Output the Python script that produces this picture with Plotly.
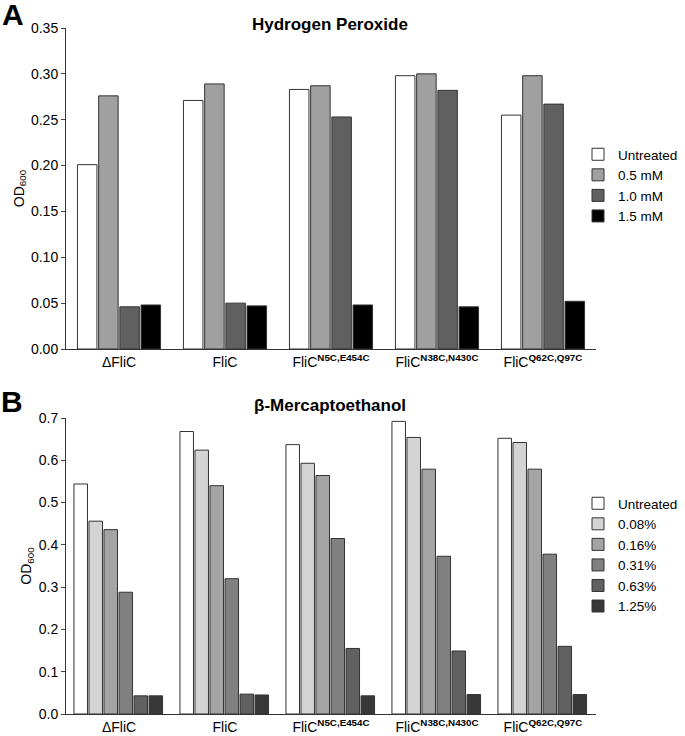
import plotly.graph_objects as go

strains = ["ΔFliC", "FliC", "FliC<sup><b>N5C,E454C</b></sup>",
           "FliC<sup><b>N38C,N430C</b></sup>", "FliC<sup><b>Q62C,Q97C</b></sup>"]

# panel A - hydrogen peroxide
h2o2_doses = ["Untreated", "0.5 mM", "1.0 mM", "1.5 mM"]
h2o2_untreated = [0.201, 0.271, 0.283, 0.298, 0.255]
h2o2_05 = [0.276, 0.289, 0.287, 0.300, 0.298]
h2o2_10 = [0.046, 0.050, 0.253, 0.282, 0.267]
h2o2_15 = [0.048, 0.047, 0.048, 0.046, 0.052]
h2o2_colors = ["#ffffff", "#a0a0a0", "#606060", "#000000"]

# panel B - beta-mercaptoethanol
bme_doses = ["Untreated", "0.08%", "0.16%", "0.31%", "0.63%", "1.25%"]
bme_untreated = [0.544, 0.668, 0.637, 0.692, 0.652]
bme_008 = [0.456, 0.624, 0.593, 0.654, 0.642]
bme_016 = [0.436, 0.540, 0.564, 0.579, 0.579]
bme_031 = [0.288, 0.320, 0.415, 0.373, 0.378]
bme_063 = [0.043, 0.047, 0.155, 0.149, 0.160]
bme_125 = [0.043, 0.045, 0.043, 0.046, 0.046]
bme_colors = ["#ffffff", "#d4d4d4", "#a4a4a4", "#808080", "#606060", "#383838"]

font = "Liberation Sans, Arial, sans-serif"
W, H = 685, 736


def px(p):
    return p / W


def py(p):
    return 1 - p / H


fig = go.Figure()

for name, vals, col in zip(h2o2_doses, [h2o2_untreated, h2o2_05, h2o2_10, h2o2_15], h2o2_colors):
    fig.add_trace(go.Bar(x=strains, y=vals, name=name, xaxis="x", yaxis="y",
                         marker=dict(color=col, line=dict(color="#333333", width=1)),
                         legend="legend"))

# panel B groups are a bit wider than panel A, so set widths per trace
group_w = 0.85
slot = group_w / len(bme_doses)
for i, (name, vals, col) in enumerate(zip(bme_doses, [bme_untreated, bme_008, bme_016,
                                                       bme_031, bme_063, bme_125], bme_colors)):
    fig.add_trace(go.Bar(x=strains, y=vals, name=name, xaxis="x2", yaxis="y2",
                         width=slot * 0.9, offset=-group_w / 2 + i * slot,
                         marker=dict(color=col, line=dict(color="#333333", width=1)),
                         legend="legend2"))

xdom = [px(66), px(596)]
axis_common = dict(showline=True, linecolor="#333333", linewidth=1, showgrid=False,
                   zeroline=False, automargin=False,
                   tickfont=dict(size=14, color="#000000", family=font))

fig.update_layout(
    width=W, height=H,
    margin=dict(l=0, r=0, t=0, b=0, autoexpand=False),
    paper_bgcolor="white", plot_bgcolor="white",
    font=dict(family=font, color="#000000"),
    barmode="group", bargap=0.2, bargroupgap=0.08,
    xaxis=dict(domain=xdom, anchor="y", ticks="", **axis_common),
    yaxis=dict(domain=[py(349), py(28)], anchor="x", range=[0, 0.35],
               dtick=0.05, tickformat=".2f", ticks="outside", ticklen=4,
               title=dict(text="OD<sub>600</sub>", font=dict(size=14), standoff=3),
               **axis_common),
    xaxis2=dict(domain=xdom, anchor="y2", ticks="", **axis_common),
    yaxis2=dict(domain=[py(714), py(418)], anchor="x2", range=[0, 0.7],
                dtick=0.1, tickformat=".1f", ticks="outside", ticklen=4,
                title=dict(text="OD<sub>600</sub>", font=dict(size=14), standoff=3),
                **axis_common),
    legend=dict(x=px(578), y=py(139), xanchor="left", yanchor="top",
                font=dict(size=13.5), tracegroupgap=0, bgcolor="rgba(0,0,0,0)"),
    legend2=dict(x=px(578), y=py(488), xanchor="left", yanchor="top",
                 font=dict(size=13.5), tracegroupgap=0, bgcolor="rgba(0,0,0,0)"),
    annotations=[
        dict(text="<b>A</b>", x=px(13), y=py(14), xref="paper", yref="paper",
             xanchor="center", yanchor="middle", showarrow=False, font=dict(size=30)),
        dict(text="<b>B</b>", x=px(12), y=py(401), xref="paper", yref="paper",
             xanchor="center", yanchor="middle", showarrow=False, font=dict(size=30)),
        dict(text="<b>Hydrogen Peroxide</b>", x=px(330), y=py(25), xref="paper",
             yref="paper", xanchor="center", yanchor="middle", showarrow=False,
             font=dict(size=17)),
        dict(text="<b>β-Mercaptoethanol</b>", x=px(330), y=py(406), xref="paper",
             yref="paper", xanchor="center", yanchor="middle", showarrow=False,
             font=dict(size=17)),
    ],
)

# drop the default 8px page margin so the figure fills the window exactly
fig.write_html("out.html", config={"displayModeBar": False},
               post_script="document.body.style.margin='0';")
